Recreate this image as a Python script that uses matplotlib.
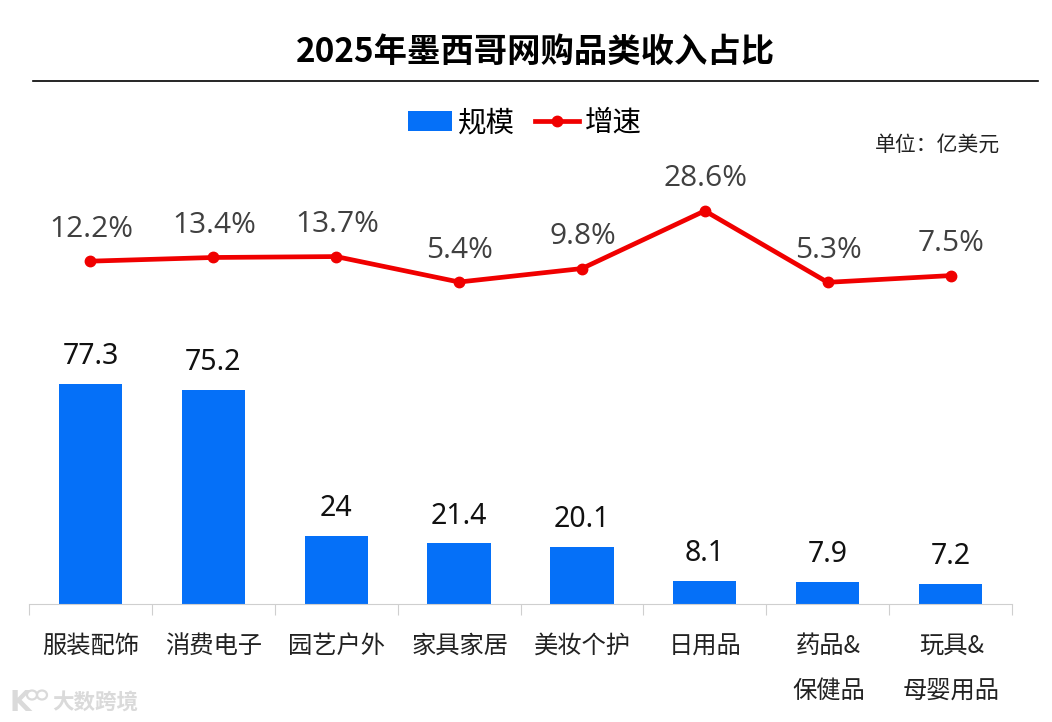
import matplotlib
matplotlib.use("Agg")
import matplotlib.pyplot as plt
from matplotlib.patches import Ellipse

plt.rcParams['font.family'] = ['Noto Sans CJK SC', 'DejaVu Sans']

categories = ['服装配饰', '消费电子', '园艺户外', '家具家居', '美妆个护', '日用品', '药品&\n保健品', '玩具&\n母婴用品']
sizes = [77.3, 75.2, 24, 21.4, 20.1, 8.1, 7.9, 7.2]
size_labels = ['77.3', '75.2', '24', '21.4', '20.1', '8.1', '7.9', '7.2']
growth = [12.2, 13.4, 13.7, 5.4, 9.8, 28.6, 5.3, 7.5]

W, H = 1052, 722
fig = plt.figure(figsize=(W / 100, H / 100), dpi=100)

# bars, baseline at y=604 and 77.3 reaches y=384
ax = fig.add_axes([29 / W, 1 - 604 / H, 983 / W, 280 / H])
ax.set_xlim(-0.5, 7.5)
ax.set_ylim(0, 280 / (220 / 77.3))
x = list(range(len(categories)))
ax.bar(x, sizes, width=0.515, color='#0570F8', label='规模')
for xi, v, lab in zip(x, sizes, size_labels):
    ax.annotate(lab, (xi, v), xytext=(0, 9), textcoords='offset points', ha='center', va='bottom',
                fontsize=20.5, fontweight='semibold', color='#111111', family=['Noto Sans', 'DejaVu Sans'])

for s in ['top', 'left', 'right']:
    ax.spines[s].set_visible(False)
ax.spines['bottom'].set_color('#CFCFCF')
ax.set_yticks([])
ax.set_xticks([i - 0.5 for i in range(9)])
ax.set_xticklabels([])
ax.tick_params(axis='x', length=8, color='#CFCFCF', direction='out')
ax.patch.set_alpha(0)
for xi, c in zip(x, categories):
    ax.annotate(c, (xi, 0), xytext=(0.5, -21), textcoords='offset points', ha='center', va='top',
                fontsize=17.5, color='#222222', linespacing=1.93)

# growth line, shares x scale with bars
ax2 = fig.add_axes([29 / W, 1 - 294 / H, 983 / W, 120 / H])
ax2.set_xlim(-0.5, 7.5)
ax2.set_ylim(1.5, 1.5 + 120 / (71.5 / 23.3))
ax2.plot(x, growth, color='#F00000', lw=3.4, marker='o', ms=7.5, label='增速')
for xi, v in zip(x, growth):
    ax2.annotate(f'{v}%', (xi, v), xytext=(0.5, 12.5), textcoords='offset points', ha='center', va='bottom',
                 fontsize=21.5, color='#404040', family=['Open Sans', 'DejaVu Sans'])
ax2.axis('off')

# title and rule
fig.text(535 / W, 1 - 52 / H, '2025年墨西哥网购品类收入占比', ha='center', va='center', fontsize=24, fontweight='bold', color='black')
fig.add_artist(plt.Line2D([33 / W, 1038 / W], [1 - 81 / H, 1 - 81 / H], color='black', lw=1.2))

# legend built from the two artists
handles = ax.containers[0], ax2.lines[0]
fig.legend(handles, ['规模', '增速'], loc='center', bbox_to_anchor=(525 / W, 1 - 123 / H), ncol=2, frameon=False,
           fontsize=20.5, handlelength=1.55, handleheight=0.75, columnspacing=0.7, handletextpad=0.2)

fig.text(1000 / W, 1 - 145 / H, '单位：亿美元', ha='right', va='center', fontsize=15, style='italic', color='#222222')

# watermark, rough logo plus text
wm = '#DADADA'
fig.text(9 / W, 1 - 703 / H, 'K', ha='left', va='center', fontsize=20, fontweight='bold', color=wm, family=['DejaVu Sans'])
for cx in (32, 42):
    fig.add_artist(Ellipse((cx / W, 1 - 695 / H), 10 / W, 9 / H, fill=False, ec=wm, lw=1.6, transform=fig.transFigure))
fig.text(52 / W, 1 - 703 / H, '大数跨境', ha='left', va='center', fontsize=15.5, fontweight='bold', color=wm)

fig.savefig('out.png', dpi=100)
